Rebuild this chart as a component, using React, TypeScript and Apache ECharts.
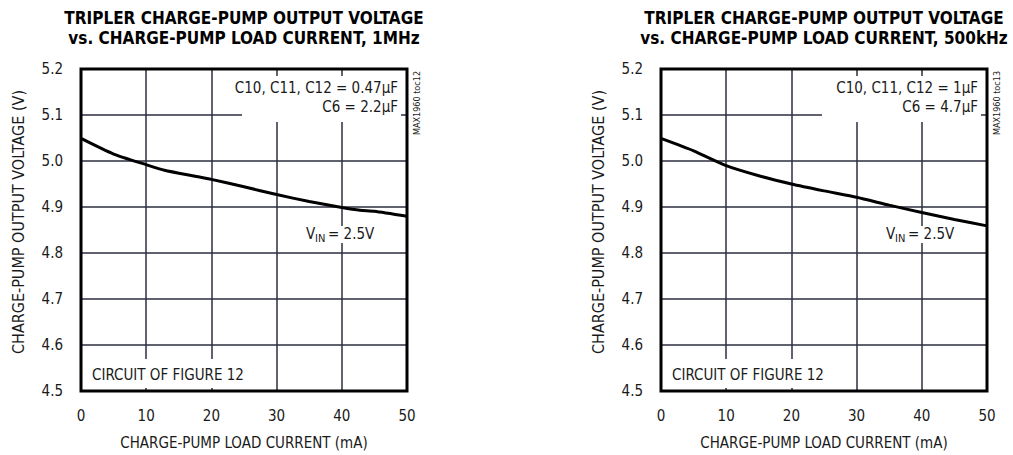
import React, { useEffect, useRef } from "react";
import * as echarts from "echarts";

const xTicks = [0, 10, 20, 30, 40, 50];
const yTicks = [4.5, 4.6, 4.7, 4.8, 4.9, 5.0, 5.1, 5.2];

const leftCurrent = [0, 5, 10, 12.8, 17.5, 20, 25, 30, 35, 40, 42.8, 45, 50];
const leftVoltage = [5.049, 5.015, 4.992, 4.98, 4.967, 4.96, 4.944, 4.927, 4.912, 4.899, 4.893, 4.891, 4.88];

const rightCurrent = [0, 5, 10, 15, 20, 25, 30, 35, 40, 45, 50];
const rightVoltage = [5.049, 5.022, 4.99, 4.968, 4.95, 4.935, 4.921, 4.904, 4.888, 4.873, 4.859];

const titles = [
  "TRIPLER CHARGE-PUMP OUTPUT VOLTAGE\nvs. CHARGE-PUMP LOAD CURRENT, 1MHz",
  "TRIPLER CHARGE-PUMP OUTPUT VOLTAGE\nvs. CHARGE-PUMP LOAD CURRENT, 500kHz",
];
const capLine1 = ["C10, C11, C12 = 0.47\u00b5F", "C10, C11, C12 = 1\u00b5F"];
const capLine2 = ["C6 = 2.2\u00b5F", "C6 = 4.7\u00b5F"];
const tocLabels = ["MAX1960 toc12", "MAX1960 toc13"];
const xName = "CHARGE-PUMP LOAD CURRENT (mA)";
const yName = "CHARGE-PUMP OUTPUT VOLTAGE (V)";
const circuitNote = "CIRCUIT OF FIGURE 12";

const F = "'DejaVu Sans Condensed','Liberation Sans Narrow',Roboto,sans-serif";
const GRID_LEFTS = [81, 661];
const GRID_TOP = 69;
const GRID_W = 326;
const GRID_H = 326;
const GRIDC = "#2c2e40";
const TXT = "#1a1a1a";
const FS = 15;

export default function App() {
  const ref = useRef<HTMLDivElement>(null);
  useEffect(() => {
    if (!ref.current) return;
    const chart = echarts.init(ref.current, null, { renderer: "svg" });
    const series = [
      { x: leftCurrent, y: leftVoltage },
      { x: rightCurrent, y: rightVoltage },
    ];
    const graphic: any[] = [];
    GRID_LEFTS.forEach((gl, i) => {
      const cx = gl + GRID_W / 2;
      graphic.push({
        type: "text",
        z: 100,
        style: {
          text: titles[i],
          x: cx,
          y: 8,
          textAlign: "center",
          textVerticalAlign: "top",
          font: `bold 17px ${F}`,
          lineHeight: 20,
          fill: "#000",
        },
      });
      graphic.push({
        type: "text",
        z: 100,
        rotation: Math.PI / 2,
        x: gl - 63,
        y: 222,
        style: {
          text: yName,
          textAlign: "center",
          textVerticalAlign: "middle",
          font: `16px ${F}`,
          fill: TXT,
        },
      });
      // top-right annotation box
      graphic.push({
        type: "rect",
        z: 90,
        shape: { x: gl + 161, y: 76, width: 159, height: 46 },
        style: { fill: "#fff" },
      });
      graphic.push({
        type: "text",
        z: 100,
        style: {
          text: capLine1[i],
          x: gl + 317,
          y: 88,
          textAlign: "right",
          textVerticalAlign: "middle",
          font: `${FS}px ${F}`,
          fill: TXT,
        },
      });
      graphic.push({
        type: "text",
        z: 100,
        style: {
          text: capLine2[i],
          x: gl + 317,
          y: 107,
          textAlign: "right",
          textVerticalAlign: "middle",
          font: `${FS}px ${F}`,
          fill: TXT,
        },
      });
      // toc label
      graphic.push({
        type: "text",
        z: 100,
        rotation: Math.PI / 2,
        x: gl + GRID_W + 10,
        y: 103,
        style: {
          text: tocLabels[i],
          textAlign: "center",
          textVerticalAlign: "middle",
          font: `9px ${F}`,
          fill: TXT,
        },
      });
      // V_IN label
      graphic.push({
        type: "rect",
        z: 90,
        shape: { x: gl + 221, y: 226, width: 74, height: 17 },
        style: { fill: "#fff" },
      });
      graphic.push({
        type: "text",
        z: 100,
        style: { text: "V", x: gl + 225, y: 241, textAlign: "left", textVerticalAlign: "bottom", font: `${FS}px ${F}`, fill: TXT },
      });
      graphic.push({
        type: "text",
        z: 100,
        style: { text: "IN", x: gl + 234, y: 244, textAlign: "left", textVerticalAlign: "bottom", font: `11px ${F}`, fill: TXT },
      });
      graphic.push({
        type: "text",
        z: 100,
        style: { text: "= 2.5V", x: gl + 247, y: 241, textAlign: "left", textVerticalAlign: "bottom", font: `${FS}px ${F}`, fill: TXT },
      });
      // circuit note
      graphic.push({
        type: "rect",
        z: 90,
        shape: { x: gl + 7, y: 359, width: 158, height: 29 },
        style: { fill: "#fff" },
      });
      graphic.push({
        type: "text",
        z: 100,
        style: {
          text: circuitNote,
          x: gl + 11,
          y: 375,
          textAlign: "left",
          textVerticalAlign: "middle",
          font: `${FS}px ${F}`,
          fill: TXT,
        },
      });
    });

    const option: any = {
      animation: false,
      backgroundColor: "#fff",
      grid: GRID_LEFTS.map((gl) => ({
        left: gl,
        top: GRID_TOP,
        width: GRID_W,
        height: GRID_H,
        show: true,
        borderColor: "#000",
        borderWidth: 3,
        z: 95,
      })),
      xAxis: GRID_LEFTS.map((_, i) => ({
        type: "value",
        gridIndex: i,
        min: xTicks[0],
        max: xTicks[xTicks.length - 1],
        interval: 10,
        name: xName,
        nameLocation: "middle",
        nameGap: 44,
        nameTextStyle: { fontFamily: F, fontSize: FS, color: TXT },
        axisLine: { show: false },
        axisTick: { show: false },
        axisLabel: { fontFamily: F, fontSize: FS, color: TXT, margin: 17 },
        splitLine: { show: true, lineStyle: { color: GRIDC, width: 1.5 } },
      })),
      yAxis: GRID_LEFTS.map((_, i) => ({
        type: "value",
        gridIndex: i,
        min: yTicks[0],
        max: yTicks[yTicks.length - 1],
        interval: 0.1,
        axisLine: { show: false },
        axisTick: { show: false },
        axisLabel: {
          fontFamily: F,
          fontSize: FS,
          color: TXT,
          margin: 18,
          formatter: (v: number) => v.toFixed(1),
        },
        splitLine: { show: true, lineStyle: { color: GRIDC, width: 1.5 } },
      })),
      series: series.map((s, i) => ({
        type: "line",
        xAxisIndex: i,
        yAxisIndex: i,
        data: s.x.map((x, k) => [x, s.y[k]]),
        showSymbol: false,
        symbol: "none",
        smooth: 0.2,
        lineStyle: { color: "#000", width: 3 },
        z: 50,
      })),
      graphic,
    };
    chart.setOption(option);
    return () => chart.dispose();
  }, []);
  return <div ref={ref} style={{ width: 1013, height: 455, position: "absolute", left: 0, top: 0 }} />;
}
